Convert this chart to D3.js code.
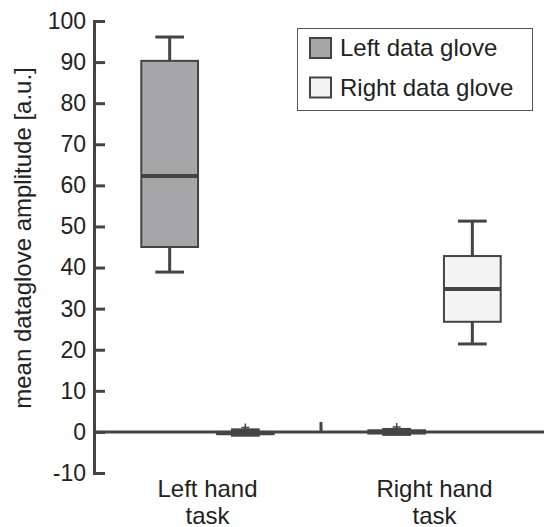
<!DOCTYPE html>
<html>
<head>
<meta charset="utf-8">
<script src="https://cdn.jsdelivr.net/npm/d3@7"></script>
<style>
  body { margin: 0; background: #fff; }
  svg { display: block; }
  text { font-family: "Liberation Sans", Arial, Helvetica, sans-serif; fill: #222; }
</style>
</head>
<body>
<svg id="chart" width="544" height="527"></svg>
<script>
// tasks on the x axis, two gloves per task
var categories = ["Left hand task", "Right hand task"];
var seriesNames = ["Left data glove", "Right data glove"];
var seriesFill = ["#a6a6a9", "#f4f4f4"];
// box stats per task: [lower whisker, q1, median, q3, upper whisker]
var leftGlove = [[38.9, 45.0, 62.3, 90.3, 96.1], [-0.6, -0.4, 0.0, 0.4, 0.6]];
var rightGlove = [[-0.8, -0.5, -0.3, 0.0, 0.5], [21.4, 26.8, 34.8, 42.8, 51.3]];
var leftOutliers = [[], [1.2]];
var rightOutliers = [[1.1], []];
var yTicks = [-10, 0, 10, 20, 30, 40, 50, 60, 70, 80, 90, 100];
var yLabel = "mean dataglove amplitude [a.u.]";

var dark = "#444";
var fs = "24px";
var svg = d3.select("#chart");
var x = d3.scaleLinear().domain([0, 6]).range([94, 548]);
var y = d3.scaleLinear().domain([-10, 100]).range([473, 21]);

// y axis, ticks point inward
var yAxis = d3.axisLeft(y).tickValues(yTicks).tickFormat(function(d) { return String(d); })
  .tickSizeInner(-11).tickSizeOuter(-11).tickPadding(8);
var gy = svg.append("g").attr("transform", "translate(" + x(0) + ",0)").call(yAxis);
gy.selectAll("path, line").attr("stroke", dark).attr("stroke-width", 3);
gy.selectAll("text").style("font-size", "23px").attr("fill", "#222");

// zero line with its one tick
svg.append("line").attr("x1", x(0)).attr("x2", 544).attr("y1", y(0)).attr("y2", y(0))
  .attr("stroke", dark).attr("stroke-width", 3);
svg.append("line").attr("x1", x(3)).attr("x2", x(3)).attr("y1", y(0)).attr("y2", y(0) - 10)
  .attr("stroke", dark).attr("stroke-width", 3);

// task labels
categories.forEach(function(c, i) {
  var words = c.split(" ");
  var t = svg.append("text").attr("text-anchor", "middle").style("font-size", fs)
    .attr("x", x(i * 3 + 1.5)).attr("y", 497);
  t.append("tspan").attr("x", x(i * 3 + 1.5)).text(words.slice(0, 2).join(" "));
  t.append("tspan").attr("x", x(i * 3 + 1.5)).attr("dy", 27).text(words[2]);
});

// y label
svg.append("text").attr("text-anchor", "middle").style("font-size", fs)
  .attr("transform", "translate(31,238) rotate(-90)").text(yLabel);

var boxes = [];
categories.forEach(function(c, i) {
  boxes.push({ pos: i * 3 + 1, s: leftGlove[i], out: leftOutliers[i], fill: seriesFill[0] });
  boxes.push({ pos: i * 3 + 2, s: rightGlove[i], out: rightOutliers[i], fill: seriesFill[1] });
});

var boxW = 0.75, capW = 0.38;
var g = svg.append("g");
boxes.forEach(function(b) {
  var cx = x(b.pos);
  var bw = x(boxW) - x(0), cw = x(capW) - x(0);
  // whiskers
  g.append("line").attr("x1", cx).attr("x2", cx).attr("y1", y(b.s[4])).attr("y2", y(b.s[3]))
    .attr("stroke", dark).attr("stroke-width", 3);
  g.append("line").attr("x1", cx).attr("x2", cx).attr("y1", y(b.s[1])).attr("y2", y(b.s[0]))
    .attr("stroke", dark).attr("stroke-width", 3);
  [b.s[0], b.s[4]].forEach(function(v) {
    g.append("line").attr("x1", cx - cw / 2).attr("x2", cx + cw / 2).attr("y1", y(v)).attr("y2", y(v))
      .attr("stroke", dark).attr("stroke-width", 3);
  });
  g.append("rect").attr("x", cx - bw / 2).attr("width", bw)
    .attr("y", y(b.s[3])).attr("height", Math.max(1, y(b.s[1]) - y(b.s[3])))
    .attr("fill", b.fill).attr("stroke", dark).attr("stroke-width", 2);
  g.append("line").attr("x1", cx - bw / 2).attr("x2", cx + bw / 2).attr("y1", y(b.s[2])).attr("y2", y(b.s[2]))
    .attr("stroke", dark).attr("stroke-width", 4);
  b.out.forEach(function(v) {
    g.append("path").attr("d", "M" + (cx - 4) + "," + y(v) + "H" + (cx + 4) + "M" + cx + "," + (y(v) - 4) + "V" + (y(v) + 4))
      .attr("stroke", dark).attr("stroke-width", 1.5).attr("fill", "none");
  });
});

// legend
var lg = svg.append("g");
lg.append("rect").attr("x", 297.5).attr("y", 28.5).attr("width", 235).attr("height", 82)
  .attr("fill", "#fff").attr("stroke", "#555").attr("stroke-width", 1);
seriesNames.forEach(function(n, i) {
  var yy = 38 + i * 39.5;
  lg.append("rect").attr("x", 310).attr("y", yy).attr("width", 21).attr("height", 20)
    .attr("fill", seriesFill[i]).attr("stroke", dark).attr("stroke-width", 2);
  lg.append("text").attr("x", 340).attr("y", yy + 18).style("font-size", fs).text(n);
});
</script>
</body>
</html>
